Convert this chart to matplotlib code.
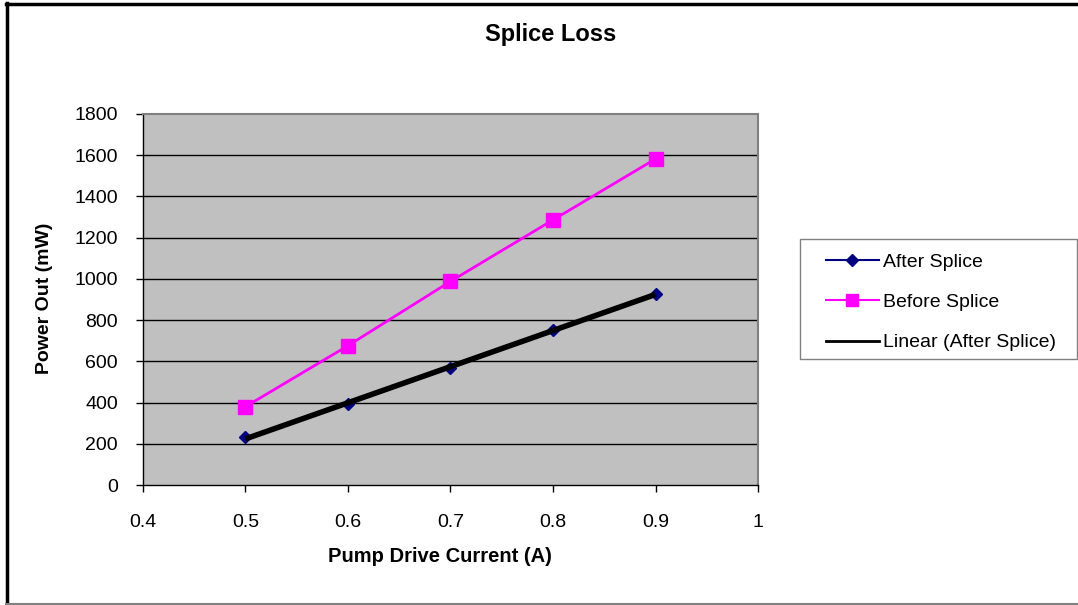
import numpy as np
import matplotlib.pyplot as plt
from matplotlib.lines import Line2D
from matplotlib.patches import Rectangle

plt.rcParams['font.family'] = ['Liberation Sans', 'DejaVu Sans']

# Pump drive current (A) and measured output power (mW)
current = [0.5, 0.6, 0.7, 0.8, 0.9]
after_splice = [231, 393, 567, 753, 927]
before_splice = [380, 676, 988, 1286, 1582]

x_ticks = [0.4, 0.5, 0.6, 0.7, 0.8, 0.9, 1.0]
x_tick_labels = ['0.4', '0.5', '0.6', '0.7', '0.8', '0.9', '1']
y_ticks = [0, 200, 400, 600, 800, 1000, 1200, 1400, 1600, 1800]

W, H = 1078, 605
fig = plt.figure(figsize=(W / 100, H / 100), dpi=100)

# chart area outline: black top/left, grey bottom
fig.add_artist(Line2D([7 / W, 7 / W], [0, 1 - 3 / H], color='black', lw=2.5, transform=fig.transFigure))
fig.add_artist(Line2D([6 / W, 1], [1 - 3.5 / H, 1 - 3.5 / H], color='black', lw=2.5, transform=fig.transFigure))
fig.add_artist(Line2D([6 / W, 1], [1.5 / H, 1.5 / H], color='#808080', lw=1.5, transform=fig.transFigure))

ax = fig.add_axes([143 / W, 1 - 485 / H, (758 - 143) / W, (485 - 114) / H])
ax.set_facecolor('#C0C0C0')
ax.set_xlim(0.4, 1.0)
ax.set_ylim(0, 1800)

for y in y_ticks[1:-1]:
    ax.axhline(y, color='black', lw=1, zorder=1)

# linear trendline of the after-splice data
slope, intercept = np.polyfit(current, after_splice, 1)
xs = np.array([current[0], current[-1]])

ax.plot(current, after_splice, color='#000080', lw=1.2, marker='D', ms=6,
        markerfacecolor='#000080', markeredgecolor='#000080', zorder=3)
ax.plot(current, before_splice, color='#FF00FF', lw=2, marker='s', ms=10,
        markerfacecolor='#FF00FF', markeredgecolor='#FF00FF', zorder=3)
ax.plot(xs, slope * xs + intercept, color='black', lw=4, zorder=4, solid_capstyle='butt')

ax.set_xticks(x_ticks)
ax.set_xticklabels(x_tick_labels)
ax.set_yticks(y_ticks)
ax.tick_params(axis='both', labelsize=14, length=5, width=1, color='black', direction='out')
ax.tick_params(axis='y', pad=13)
ax.tick_params(axis='x', pad=16)

for side in ['top', 'right']:
    ax.spines[side].set_color('#808080')
    ax.spines[side].set_linewidth(1.5)
for side in ['left', 'bottom']:
    ax.spines[side].set_color('black')
    ax.spines[side].set_linewidth(1)

fig.text(551 / W, 1 - 35 / H, 'Splice Loss', ha='center', va='center', fontsize=17, fontweight='bold')
fig.text(440 / W, 1 - 557 / H, 'Pump Drive Current (A)', ha='center', va='center', fontsize=14.5, fontweight='bold')
fig.text(45 / W, 1 - 298 / H, 'Power Out (mW)', ha='center', va='center', fontsize=14,
         fontweight='bold', rotation=90)

# legend box
fig.add_artist(Rectangle((800 / W, 1 - 359 / H), 277 / W, 120 / H, transform=fig.transFigure,
                         facecolor='white', edgecolor='#808080', lw=1))
handles = [
    Line2D([], [], color='#000080', lw=1.5, marker='D', ms=6),
    Line2D([], [], color='#FF00FF', lw=1.5, marker='s', ms=9),
    Line2D([], [], color='black', lw=2),
]
leg = fig.legend(handles, ['After Splice', 'Before Splice', 'Linear (After Splice)'],
                 loc='upper left', bbox_to_anchor=(826 / W, 1 - 253 / H), fontsize=14,
                 frameon=False, borderaxespad=0, borderpad=0, handlelength=2.7,
                 handletextpad=0.22, labelspacing=1.17)

fig.savefig('out.png', dpi=100)
